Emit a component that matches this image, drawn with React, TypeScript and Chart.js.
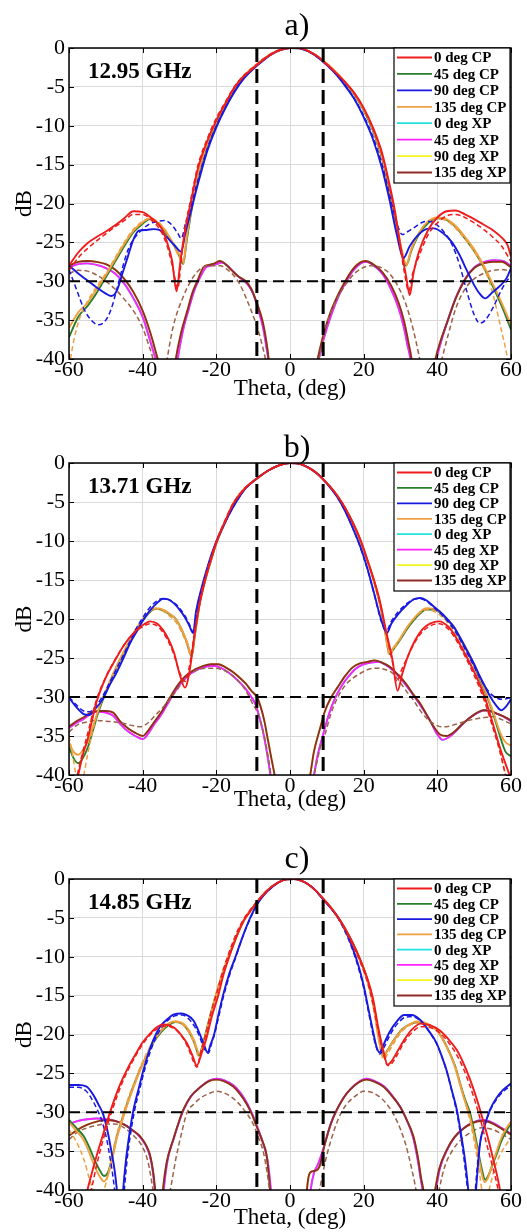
import React, { useEffect, useRef } from 'react';
import { Chart, registerables } from 'chart.js';

Chart.register(...registerables);

const SERIF = "'Liberation Serif', 'Times New Roman', serif";

// ---------- shared axis / label data ----------
const xTicks = [-60, -40, -20, 0, 20, 40, 60];
const yTicks = [0, -5, -10, -15, -20, -25, -30, -35, -40];
const refThetas = [-9, 9];
const refLevel = -30;
const legendLabels = ['0 deg CP', '45 deg CP', '90 deg CP', '135 deg CP', '0 deg XP', '45 deg XP', '90 deg XP', '135 deg XP'];
const panelTitles = ['a)', 'b)', 'c)'];
const freqLabels = ['12.95 GHz', '13.71 GHz', '14.85 GHz'];

// ---------- panel a : 12.95 GHz ([theta, dB]) ----------
const aCP0 = [[-60,-28],[-57.5,-26.3],[-55,-25.1],[-52.5,-24.3],[-50,-23.6],[-47.5,-22.8],[-45,-21.9],[-42.5,-21],[-40,-21.1],[-37.5,-21.9],[-35,-23.1],[-33.5,-24.8],[-32,-27.4],[-30.8,-31.3],[-29.8,-27.6],[-28.5,-23.5],[-27,-20],[-25,-15.5],[-22.5,-12],[-20,-9.3],[-17.5,-7.1],[-15,-5],[-12.5,-3.6],[-10,-2.6],[-7.5,-1.6],[-5,-0.8],[-2.5,-0.25],[0,0],[2.5,0],[5,-0.4],[7.5,-1.1],[10,-2.1],[12.5,-3.2],[15,-4.4],[17.5,-5.8],[20,-7.7],[22.5,-10.2],[25,-13.5],[27,-17.5],[28.5,-21],[30,-25.5],[31.5,-29.3],[32.5,-31.8],[33.5,-29],[35,-26.2],[37.5,-23.4],[40,-21.8],[42.5,-21],[45,-20.9],[47.5,-21.4],[50,-22],[52.5,-22.7],[55,-23.4],[57.5,-24.4],[59,-25.3],[60,-26.8]];
const aCP0s = [[-60,-28.6],[-57.5,-27],[-55,-25.8],[-52.5,-24.8],[-50,-23.9],[-47.5,-23],[-45,-22.2],[-42.5,-21.4],[-40,-21.4],[-37.5,-22.2],[-35,-23.6],[-33,-26],[-31.5,-29],[-30.5,-31],[-29.5,-27.2],[-28.5,-23.2],[-27,-19.6],[-25,-15.1],[-22.5,-11.7],[-20,-9],[-17.5,-6.9],[-15,-4.9],[-12.5,-3.5],[-10,-2.5],[-7.5,-1.5],[-5,-0.7],[-2.5,-0.2],[0,0],[2.5,0],[5,-0.4],[7.5,-1.1],[10,-2.1],[12.5,-3.2],[15,-4.4],[17.5,-5.9],[20,-7.8],[22.5,-10.4],[25,-13.8],[27,-17.8],[28.5,-21.4],[30,-25.8],[31.3,-29.5],[32.2,-31.3],[33.3,-29],[35,-26.8],[37.5,-24],[40,-22.5],[42.5,-21.6],[45,-21.4],[47.5,-21.8],[50,-22.5],[52.5,-23.3],[55,-24.3],[57.5,-25.5],[60,-27.5]];
const aCP45 = [[-60,-37.2],[-57.5,-34.6],[-55,-33.2],[-52.5,-31.5],[-50,-29.5],[-47.5,-27.5],[-45,-25.5],[-42.5,-23.7],[-40,-22.6],[-38,-22],[-36,-22.5],[-34,-23.6],[-32,-25],[-30,-26.8],[-29,-27.8],[-28,-24.6],[-26.5,-20.2],[-25,-16.6],[-22.5,-12.6],[-20,-9.7],[-17.5,-7.4],[-15,-5.3],[-12.5,-3.7],[-10,-2.6],[-7.5,-1.6],[-5,-0.8],[-2.5,-0.25],[0,0],[2.5,-0.05],[5,-0.4],[7.5,-1.1],[10,-2.1],[12.5,-3.2],[15,-4.5],[17.5,-6],[20,-8],[22.5,-10.6],[25,-14.2],[27,-18.3],[29,-23],[30.5,-26.5],[31.5,-28],[33,-26],[35,-24],[37.5,-22.5],[40,-21.9],[42.5,-22.1],[45,-23],[47.5,-24.5],[50,-26.1],[52.5,-28.1],[55,-30.6],[57.5,-33.2],[60,-36.2]];
const aCP135 = [[-60,-36],[-57.5,-34],[-55,-32.8],[-52.5,-31],[-50,-29.2],[-47.5,-27.2],[-45,-25.2],[-42.5,-23.5],[-40,-22.4],[-38,-21.9],[-36,-22.4],[-34,-23.4],[-32,-24.9],[-30,-26.6],[-29,-27.5],[-28,-24.2],[-26.5,-19.9],[-25,-16.3],[-22.5,-12.4],[-20,-9.5],[-17.5,-7.2],[-15,-5.1],[-12.5,-3.6],[-10,-2.5],[-7.5,-1.5],[-5,-0.7],[-2.5,-0.2],[0,0],[2.5,0],[5,-0.4],[7.5,-1.1],[10,-2],[12.5,-3.1],[15,-4.4],[17.5,-5.9],[20,-7.9],[22.5,-10.4],[25,-14],[27,-18],[29,-22.7],[30.5,-26.3],[31.5,-27.8],[33,-25.8],[35,-23.8],[37.5,-22.3],[40,-21.8],[42.5,-22],[45,-22.9],[47.5,-24.3],[50,-25.9],[52.5,-27.9],[55,-30.3],[57.5,-32.8],[60,-35.6]];
const aCP135s = [[-60,-41],[-58.5,-37.2],[-57,-34.6],[-55,-32.6],[-52.5,-30.7],[-50,-29],[-47.5,-27],[-45,-25],[-42.5,-23.3],[-40,-22.3],[-38,-21.9],[-36,-22.3],[-34,-23.3],[-32,-25],[-30,-27],[-29,-27.8],[-28,-24],[-26.5,-19.5],[-25,-16],[-22.5,-12.1],[-20,-9.3],[-17.5,-7],[-15,-5],[-12.5,-3.5],[-10,-2.4],[-7.5,-1.5],[-5,-0.7],[-2.5,-0.2],[0,0],[2.5,0],[5,-0.4],[7.5,-1.1],[10,-2],[12.5,-3.1],[15,-4.4],[17.5,-5.9],[20,-7.9],[22.5,-10.5],[25,-14.2],[27,-18.3],[29,-23],[30.5,-26.5],[31.5,-28],[33,-25.8],[35,-23.8],[37.5,-22.3],[40,-21.9],[42.5,-22.2],[45,-23.2],[47.5,-24.6],[50,-26.2],[52,-27.8],[54,-29.9],[55.5,-32.4],[57,-35.5],[58.5,-38.6],[59.5,-41]];
const aCP90 = [[-60,-28],[-57.5,-29],[-55,-29.9],[-52.5,-30.8],[-50,-31.6],[-48.5,-31.9],[-47,-31.2],[-45.5,-29],[-44,-26.8],[-42.5,-24.6],[-41,-23.5],[-39,-23.4],[-37,-23.3],[-35.5,-23.4],[-33.5,-24.3],[-31.5,-25.3],[-29.5,-26.2],[-28.5,-24],[-27,-21.2],[-25,-17.5],[-22.5,-13.3],[-20,-10.2],[-17.5,-7.7],[-15,-5.6],[-12.5,-3.9],[-10,-2.7],[-7.5,-1.7],[-5,-0.8],[-2.5,-0.25],[0,0],[2.5,-0.05],[5,-0.45],[7.5,-1.2],[10,-2.2],[12.5,-3.4],[15,-4.9],[17.5,-6.6],[20,-8.9],[22.5,-11.7],[25,-15.5],[27,-19.5],[29,-24],[30.8,-27],[32.5,-25.5],[34.5,-24.2],[37,-23.3],[39,-23.2],[41.5,-23.8],[44,-25],[46,-26.6],[48,-28.6],[50,-30.5],[51.5,-31.6],[53,-32.2],[55,-31.4],[57,-30.6],[58.8,-29.6],[60,-28.3]];
const aCP90s = [[-60,-28.5],[-58,-31],[-56,-33.5],[-54,-35],[-52,-35.6],[-50,-35],[-48.5,-33.5],[-47,-31],[-45.5,-28.3],[-44,-26],[-42,-24.3],[-40,-23.3],[-38,-22.6],[-36,-22.3],[-34,-22.2],[-32,-22.8],[-30.5,-23.8],[-29.5,-24.5],[-28.5,-22.8],[-27,-20.5],[-25,-17],[-22.5,-13],[-20,-10],[-17.5,-7.6],[-15,-5.5],[-12.5,-3.8],[-10,-2.6],[-7.5,-1.6],[-5,-0.8],[-2.5,-0.2],[0,0],[2.5,-0.05],[5,-0.45],[7.5,-1.2],[10,-2.2],[12.5,-3.3],[15,-4.8],[17.5,-6.5],[20,-8.7],[22.5,-11.4],[25,-15],[27,-18.8],[29,-22.5],[30.5,-24],[32,-23.6],[34,-23],[36,-22.4],[38,-22.3],[40,-22.8],[42,-23.8],[44,-25.3],[46,-27.8],[48,-31.3],[50,-34.3],[51.5,-35.4],[53,-35],[55,-33.5],[57,-31.5],[58.5,-30.2],[60,-29.3]];
const aXP135 = [[-60,-28],[-57.5,-27.5],[-55,-27.4],[-52.5,-27.5],[-50,-27.8],[-47.5,-28.5],[-45,-29.7],[-42.5,-31.4],[-40,-33.8],[-38,-36.5],[-36.5,-39],[-35.5,-41],[-33.5,-50],[-31,-40],[-29.5,-36.5],[-28,-34],[-26.5,-31.5],[-25,-29.8],[-23.5,-28.2],[-22,-27.9],[-20.5,-27.7],[-19,-27.4],[-17.5,-27.8],[-16,-28.5],[-14,-29.4],[-12,-30],[-10.5,-31],[-9,-32.8],[-7.5,-35],[-6.5,-37.5],[-5.8,-40],[-5,-45],[0,-60],[5,-45],[7.5,-40],[9,-37],[11,-34],[13,-31.8],[15,-30],[17,-28.5],[19,-27.6],[20.5,-27.4],[22.5,-27.8],[25,-28.8],[27.5,-30.6],[29.5,-32.8],[31,-35.2],[32,-37.5],[33,-40],[34,-44],[36.5,-50],[38.5,-43],[39.5,-40],[41,-37.5],[42.5,-35.5],[45,-32.2],[47.5,-29.8],[50,-28.3],[52.5,-27.7],[55,-27.5],[57.5,-27.5],[60,-28.2]];
const aXP45 = [[-60,-28.2],[-57.5,-27.8],[-55,-27.7],[-52.5,-27.9],[-50,-28.3],[-47.5,-29],[-45,-30.3],[-42.5,-32.2],[-40,-34.6],[-38.5,-36.8],[-37,-39.2],[-36,-41],[-33.5,-50],[-30.5,-40],[-29,-36.2],[-27.5,-33.6],[-26,-31.2],[-24.5,-29.6],[-23,-28.3],[-21.5,-28],[-20,-27.8],[-18.5,-27.6],[-17,-28],[-15.5,-28.7],[-13.5,-29.6],[-11.5,-30.4],[-10,-31.6],[-8.7,-33.5],[-7.3,-36],[-6.4,-38.5],[-5.9,-40],[-5,-45],[0,-60],[5,-46],[7.8,-40],[9.4,-37],[11.3,-34.2],[13.2,-31.9],[15.2,-30.1],[17.2,-28.6],[19.2,-27.7],[20.7,-27.5],[22.5,-27.9],[25,-29],[27.3,-30.9],[29.3,-33.2],[30.8,-35.7],[31.8,-38],[32.7,-40],[34,-45],[36.5,-50],[38.8,-43],[39.8,-40],[41.3,-37.3],[43,-34.8],[45.3,-31.8],[47.8,-29.5],[50.3,-28.1],[52.8,-27.5],[55.3,-27.3],[57.8,-27.4],[60,-28]];
const aXP0 = aXP45;
const aXP90 = aXP135;
const aXPs = [[-60,-29],[-57.5,-28.6],[-55,-28.7],[-52.5,-29.2],[-50,-30],[-47.5,-31],[-45,-32.3],[-42.5,-33.8],[-40,-36],[-38.5,-38],[-37,-40.5],[-35.5,-46],[-34,-42],[-33,-39],[-31.7,-35.8],[-29,-32],[-26.2,-29.4],[-24,-28.3],[-22.5,-28],[-19,-28],[-17,-28.5],[-15.4,-29.2],[-13.5,-30.5],[-11.7,-32.4],[-9,-35.8],[-7.5,-38.3],[-6.5,-40.5],[-4,-50],[0,-60],[4,-50],[7.5,-41],[8.5,-38.5],[10,-35.5],[12,-33],[15,-30.5],[18,-28.8],[22,-28],[25,-28.3],[27,-29],[29.5,-30.8],[31.5,-33],[33.5,-36.3],[35,-39.5],[36,-42],[38,-46],[40,-42.5],[41.5,-39.5],[43,-36.8],[45,-33.5],[47.5,-31],[50,-29.7],[52.5,-29],[55,-28.6],[57.5,-28.5],[60,-28.7]];

// ---------- panel b : 13.71 GHz ----------
const bCP0 = [[-60,-44],[-58.5,-41.5],[-57.5,-40],[-56.3,-37.5],[-55,-35.5],[-52.5,-30.6],[-50,-27.5],[-47.5,-25.3],[-45,-23.3],[-42.5,-21.8],[-40,-20.8],[-38,-20.3],[-36,-20.6],[-34.5,-21.4],[-33,-22.6],[-31.5,-24.3],[-30,-27],[-28.5,-28.8],[-27.2,-26.5],[-26,-22.3],[-24.5,-18],[-23,-15],[-21.5,-12.5],[-20,-10.2],[-17.5,-7.4],[-15.5,-5.3],[-12.5,-3.4],[-9,-2],[-6,-1],[-3,-0.3],[0,0],[2,-0.05],[5,-0.6],[7.5,-1.4],[9,-2.1],[11,-3.1],[13,-4.3],[15,-5.8],[17,-7.6],[19,-9.7],[21,-12.4],[23,-15.3],[24.5,-17.9],[26.2,-21.8],[27.8,-25.2],[29.2,-29.2],[30.5,-27],[32,-24.8],[34,-22.7],[36,-21.3],[38,-20.6],[40.5,-20.3],[43,-21],[45,-22.3],[47,-24],[49,-25.8],[51,-27.8],[53,-30.2],[55,-33.3],[57,-36.5],[59,-39.2],[60,-40.5]];
const bCP0s = [[-60,-45],[-58,-40.5],[-56.5,-37.5],[-55,-34.8],[-52.5,-30.3],[-50,-27.4],[-47.5,-25.2],[-45,-23.3],[-42.5,-21.9],[-40,-21],[-38,-20.6],[-36,-20.9],[-34.5,-21.7],[-33,-22.9],[-31.5,-24.6],[-30,-26.8],[-28.5,-28],[-27.3,-26],[-26,-22],[-24.5,-17.6],[-23,-14.6],[-21.5,-12.2],[-20,-10],[-17.5,-7.2],[-15.5,-5.2],[-12.5,-3.3],[-9,-2],[-6,-1],[-3,-0.3],[0,0],[2,-0.05],[5,-0.6],[7.5,-1.4],[9,-2.1],[11,-3.1],[13,-4.3],[15,-5.8],[17,-7.7],[19,-9.8],[21,-12.5],[23,-15.5],[24.5,-18.2],[26.2,-22],[27.8,-25.5],[29,-28],[30.3,-26.5],[32,-24.8],[34,-22.9],[36,-21.6],[38,-20.9],[40.5,-20.6],[43,-21.3],[45,-22.6],[47,-24.3],[49,-26.2],[51,-28.3],[53,-30.8],[55,-33.8],[57,-37],[58.5,-40],[60,-43]];
const bCP45 = [[-60,-36.4],[-58.8,-37.8],[-57.5,-38.5],[-56.2,-37.8],[-55,-36.6],[-53.5,-34.3],[-52,-31.9],[-50,-29.4],[-48,-27.1],[-46,-25.2],[-44,-23.4],[-42,-21.6],[-40,-20.2],[-38,-19.1],[-36.5,-18.7],[-35,-18.8],[-33,-19.3],[-31,-20],[-29.5,-21.3],[-28,-23],[-26.7,-24.8],[-25.8,-22],[-24.5,-18],[-23,-15],[-21.5,-12.6],[-20,-10.3],[-17.5,-7.5],[-15.5,-5.4],[-12.5,-3.4],[-9,-2],[-6,-1],[-3,-0.3],[0,0],[2,-0.05],[5,-0.6],[7.5,-1.4],[9,-2.1],[11,-3.1],[13,-4.3],[15,-5.8],[17,-7.6],[19,-9.8],[21,-12.5],[23,-15.5],[24.5,-18.2],[25.8,-21.5],[27,-24.5],[28.2,-23.8],[30,-22.6],[31.6,-21.4],[33.5,-20.2],[35.3,-19.3],[37,-18.8],[39,-18.8],[41,-19.3],[43,-20.3],[44.5,-21],[46,-22.4],[48,-24],[50,-26],[51.6,-27.8],[53.5,-30],[55.2,-32.2],[57,-35],[58.5,-37],[60,-37.6]];
const bCP135 = [[-60,-35.8],[-58.8,-37],[-57.5,-37.4],[-56.2,-36.8],[-55,-35.8],[-53.5,-33.8],[-52,-31.6],[-50,-29.2],[-48,-27],[-46,-25],[-44,-23.2],[-42,-21.5],[-40,-20.1],[-38,-19],[-36.5,-18.6],[-35,-18.7],[-33,-19.2],[-31,-20],[-29.5,-21.2],[-28,-22.9],[-26.7,-24.6],[-25.8,-21.8],[-24.5,-17.9],[-23,-14.9],[-21.5,-12.5],[-20,-10.2],[-17.5,-7.4],[-15.5,-5.3],[-12.5,-3.4],[-9,-2],[-6,-1],[-3,-0.3],[0,0],[2,-0.05],[5,-0.6],[7.5,-1.4],[9,-2.1],[11,-3.1],[13,-4.3],[15,-5.8],[17,-7.6],[19,-9.8],[21,-12.4],[23,-15.4],[24.5,-18.1],[25.8,-21.4],[27,-24.3],[28.2,-23.6],[30,-22.4],[31.6,-21.2],[33.5,-20],[35.3,-19.1],[37,-18.6],[39,-18.7],[41,-19.2],[43,-20.2],[44.5,-21],[46,-22.3],[48,-23.9],[50,-25.8],[51.6,-27.6],[53.5,-29.8],[55.2,-32],[57,-34.5],[58.5,-35.8],[60,-36.2]];
const bCP135s = [[-60,-35],[-59,-37.5],[-58,-40.2],[-57,-41.5],[-56,-40],[-55,-37.5],[-53.5,-34.2],[-52,-31.6],[-50,-29.2],[-48,-27],[-46,-25],[-44,-23.2],[-42,-21.4],[-40,-20],[-38,-19],[-36.5,-18.7],[-35,-18.9],[-33,-19.5],[-31,-20.4],[-29.5,-21.6],[-28,-23.3],[-26.8,-24.9],[-25.8,-22],[-24.5,-17.8],[-23,-14.7],[-21.5,-12.3],[-20,-10],[-17.5,-7.3],[-15.5,-5.2],[-12.5,-3.3],[-9,-2],[-6,-1],[-3,-0.3],[0,0],[2,-0.05],[5,-0.6],[7.5,-1.4],[9,-2.1],[11,-3.1],[13,-4.3],[15,-5.8],[17,-7.7],[19,-9.9],[21,-12.6],[23,-15.7],[24.5,-18.5],[25.8,-21.8],[27,-24.7],[28.2,-23.8],[30,-22.5],[31.6,-21.2],[33.5,-20],[35.3,-19.2],[37,-18.8],[39,-19],[41,-19.6],[43,-20.6],[45,-22],[47,-23.8],[49,-25.8],[51,-28],[53,-30.5],[55,-33.5],[57,-37],[58.5,-40],[59.5,-42]];
const bCP90 = [[-60,-30.1],[-58,-31.3],[-56,-32.2],[-54.5,-32.3],[-53,-31.6],[-51,-30.4],[-49,-28.5],[-47,-26.8],[-45,-24.8],[-43.4,-23.1],[-41.5,-21.5],[-39.8,-20.1],[-38,-18.9],[-36.2,-18],[-34.5,-17.4],[-33,-17.5],[-31.5,-18],[-30,-18.8],[-28.5,-19.8],[-27.3,-20.9],[-26.3,-21.8],[-25.5,-19],[-24,-16],[-22.5,-13.5],[-21,-11.3],[-19.5,-9.5],[-17.5,-7.5],[-15,-5.3],[-12.5,-3.5],[-9,-2],[-6,-1],[-3,-0.3],[0,0],[2,-0.05],[5,-0.6],[7.5,-1.4],[9,-2.1],[11,-3.2],[13,-4.5],[15,-6.2],[17,-8.3],[19,-10.6],[21,-13.5],[23,-17],[24.7,-20],[26.3,-21.8],[27.5,-20.6],[29.5,-19.3],[31.5,-18.3],[33.5,-17.5],[35.3,-17.3],[37,-17.6],[39,-18.4],[41.5,-19.4],[44.3,-20.9],[46,-22.2],[48,-24],[50,-25.8],[51.6,-27.4],[53,-28.7],[54.3,-29.9],[56,-31.1],[57.3,-31.7],[58.7,-31.2],[60,-30.3]];
const bCP90s = [[-60,-30],[-58,-31],[-56,-31.8],[-54.5,-31.9],[-53,-31.3],[-51,-30],[-49,-28.2],[-47,-26.3],[-45,-24.4],[-43.4,-22.8],[-41.5,-21],[-39.8,-19.7],[-38,-18.5],[-36.2,-17.7],[-34.8,-17.4],[-33,-17.5],[-31.5,-17.9],[-30,-18.6],[-28.5,-19.6],[-27.3,-20.7],[-26.2,-21.7],[-25.3,-19.2],[-24,-16.2],[-22.5,-13.6],[-21,-11.4],[-19.5,-9.6],[-17.5,-7.5],[-15,-5.3],[-12.5,-3.5],[-9,-2],[-6,-1],[-3,-0.3],[0,0],[2,-0.05],[5,-0.6],[7.5,-1.4],[9,-2.1],[11,-3.2],[13,-4.5],[15,-6.2],[17,-8.3],[19,-10.7],[21,-13.6],[23,-17.1],[24.7,-20.2],[26.2,-21.5],[27.5,-20.3],[29.5,-19],[31.5,-18.1],[33.5,-17.5],[35.3,-17.4],[37,-17.7],[39,-18.5],[41.5,-19.6],[44.3,-21.2],[46,-22.5],[48,-24.3],[50,-26.1],[51.6,-27.6],[53,-28.7],[54.5,-29.6],[56,-30.1],[57.5,-30.3],[59,-30.2],[60,-30.1]];
const bXP135 = [[-60,-33.8],[-58,-33.1],[-56,-32.6],[-54,-32],[-52,-31.8],[-50,-31.8],[-48,-32],[-46,-33.2],[-44,-34],[-42,-34.6],[-40,-35],[-38.5,-34.3],[-37,-33.3],[-35,-32],[-33.5,-30.8],[-32,-29.6],[-30.5,-28.5],[-29,-27.6],[-27.5,-27],[-25.5,-26.4],[-23.5,-26],[-21.5,-25.8],[-19.5,-25.8],[-17.5,-26.2],[-15.5,-26.8],[-13.5,-27.6],[-12,-28.3],[-10.5,-29.2],[-9,-30],[-8,-31.2],[-7,-33],[-6,-35.5],[-5,-38],[-4,-40.5],[-2,-47],[0,-55],[2,-50],[4,-44],[5.5,-40],[6.5,-37],[8,-34.3],[9.5,-31.8],[11,-30.2],[13,-28.7],[15,-27.3],[17,-26.2],[19,-25.7],[21,-25.5],[23,-25.3],[25,-25.6],[27,-26.1],[29,-27],[31.5,-28.3],[33.5,-29.7],[35.3,-30.8],[37,-32.2],[39,-33.8],[40.7,-34.8],[42.5,-35],[44.5,-34.5],[46.5,-33.6],[48.5,-32.8],[50.5,-32.1],[52.5,-31.7],[54.5,-31.8],[56.5,-32.2],[58.5,-32.6],[60,-33]];
const bXP45 = [[-60,-34],[-58,-33.3],[-56,-32.8],[-54,-32.1],[-52,-31.9],[-50,-32],[-48,-32.4],[-46,-33.5],[-44,-34.4],[-42,-35],[-40,-35.4],[-38.5,-34.7],[-37,-33.6],[-35,-32.3],[-33.5,-31.1],[-32,-29.9],[-30.5,-28.8],[-29,-27.9],[-27.5,-27.2],[-25.5,-26.6],[-23.5,-26.2],[-21.5,-26],[-19.5,-26.1],[-17.5,-26.6],[-15.5,-27.3],[-13.5,-28.2],[-12,-29],[-10.5,-30],[-9.3,-31],[-8.3,-32.6],[-7.3,-34.5],[-6.3,-37],[-5.3,-40],[-3,-48],[0,-55],[3,-48],[5,-43],[6.5,-40],[7.5,-37.5],[9,-34.8],[10.5,-32.3],[12,-30.4],[14,-28.6],[16,-27.3],[18,-26.3],[20,-25.8],[22,-25.6],[24,-25.5],[26,-25.9],[28,-26.6],[30,-27.6],[32,-28.8],[34,-30.1],[36,-31.5],[38,-33],[40,-34.8],[41.5,-35.5],[43,-35.2],[45,-34.4],[47,-33.4],[49,-32.6],[51,-32],[53,-31.7],[55,-31.9],[57,-32.3],[59,-32.8],[60,-33.1]];
const bXP0 = bXP45;
const bXP90 = bXP135;
const bXPs = [[-60,-34.5],[-57.5,-33.5],[-55,-33.2],[-52.5,-33],[-50,-33.1],[-47.5,-33.2],[-45,-33.4],[-42.5,-33.7],[-40.5,-33.8],[-38.5,-33.3],[-36.5,-32.3],[-35,-31.6],[-33,-30.5],[-31,-29.3],[-29,-28],[-27,-27],[-25,-26.5],[-23,-26.3],[-21,-26.3],[-19,-26.4],[-17,-26.8],[-15,-27.5],[-13,-28.5],[-11.5,-29.6],[-10,-31],[-9,-31.8],[-8,-33.2],[-7,-35],[-6,-37.5],[-5,-40.5],[-3,-47],[0,-55],[3,-47],[5.5,-42],[7,-39],[8.5,-36],[9.5,-34.8],[11,-32.3],[13,-30],[15,-28.5],[17,-27.6],[19,-27],[21,-26.5],[23.5,-26.3],[26,-26.5],[28,-27],[30,-28.2],[32,-29.5],[33.5,-30.4],[35,-31.5],[37,-32.7],[38.9,-33.4],[41,-33.8],[42.5,-33.8],[45,-33.5],[47,-33.2],[49.5,-32.9],[51.6,-32.7],[53.5,-32.6],[55.2,-32.5],[57.5,-32.9],[59.7,-33.4]];

// ---------- panel c : 14.85 GHz ----------
const cCP0 = [[-60,-49],[-57,-44],[-55,-40],[-53.5,-37.3],[-52,-34.8],[-50,-31.7],[-48,-28.8],[-46,-26.3],[-44,-24.3],[-42,-22.6],[-40,-21],[-38,-19.9],[-36,-19],[-34.5,-18.7],[-33,-18.8],[-31.5,-19.1],[-30,-19.8],[-28,-21.1],[-26.5,-22.7],[-25.3,-24],[-24,-22.4],[-22.7,-20.5],[-21.3,-17.8],[-19.5,-15],[-18,-12.2],[-16,-9.3],[-14,-6.8],[-12.5,-5.3],[-11,-4.3],[-9,-3],[-7,-1.9],[-5,-1],[-3,-0.4],[-1,-0.05],[1,0],[3,-0.2],[5,-0.7],[7,-1.5],[9,-2.5],[11,-3.6],[13,-4.9],[15,-6.4],[17,-8.2],[19,-10.3],[21,-12.8],[22.5,-15.3],[24,-19.2],[25.3,-22],[26.5,-23.9],[27.5,-23.5],[29,-22.3],[31,-20.7],[33,-19.4],[35.5,-18.6],[38,-18.8],[40.7,-19.5],[43,-20.6],[45.3,-22],[47,-23.6],[48.9,-25.8],[50.3,-27.7],[51.6,-29.7],[53.4,-32.7],[55.2,-36.1],[57,-40],[58.5,-45],[60,-49]];
const cCP0s = [[-60,-47],[-57,-43],[-54,-40],[-52.5,-36.8],[-51,-34],[-49,-30.8],[-47,-28],[-45,-25.6],[-43,-23.7],[-41,-22],[-39,-20.6],[-37,-19.6],[-35,-19],[-33.5,-18.9],[-32,-19.1],[-30.5,-19.6],[-29,-20.5],[-27.5,-21.9],[-26.2,-23.5],[-25.3,-24.2],[-24.2,-22.2],[-22.9,-20],[-21.5,-17.3],[-19.8,-14.5],[-18.2,-11.8],[-16.2,-9],[-14.2,-6.6],[-12.5,-5.1],[-11,-4.1],[-9,-2.9],[-7,-1.8],[-5,-1],[-3,-0.4],[-1,-0.05],[1,0],[3,-0.2],[5,-0.7],[7,-1.5],[9,-2.6],[11,-3.7],[13,-5],[15,-6.6],[17,-8.5],[19,-10.6],[21,-13.2],[22.5,-16],[24,-19.7],[25.3,-22.3],[26.5,-24],[27.5,-23.8],[29,-22.7],[31,-21],[33,-19.8],[35.5,-19],[38,-19.1],[40.7,-19.8],[43,-21],[45,-22.4],[47,-24.3],[49,-26.8],[50.5,-29],[52,-31.5],[53.5,-34.3],[55,-37],[56.5,-40],[58,-45],[60,-50]];
const cCP45 = [[-60,-31],[-58,-32],[-56,-33.1],[-54.5,-34.5],[-53,-36.2],[-51.5,-37.6],[-50.5,-38.2],[-49.5,-37.8],[-48.5,-36.3],[-47,-33.1],[-45.5,-30.8],[-44,-28.6],[-42,-26],[-40.5,-24.3],[-39,-22.8],[-37,-21],[-35,-19.7],[-33,-18.8],[-31,-18.4],[-29,-18.7],[-27.5,-19.6],[-26,-21],[-24.7,-22.7],[-23.8,-21.5],[-22.5,-19.1],[-21,-16.4],[-19.5,-14],[-18,-11.8],[-16,-9.2],[-14,-6.8],[-12.5,-5.3],[-11,-4.2],[-9,-3],[-7,-1.9],[-5,-1],[-3,-0.4],[-1,-0.05],[1,0],[3,-0.2],[5,-0.7],[7,-1.5],[9,-2.6],[11,-3.6],[13,-4.9],[15,-6.4],[17,-8.2],[19,-10.3],[21,-12.9],[22.5,-15.7],[23.7,-19],[24.6,-21.5],[25.4,-22.8],[26.5,-22],[28.5,-20.5],[30.5,-19.3],[33,-18.6],[35.3,-18.4],[37.5,-18.8],[39.8,-19.4],[41.5,-20.6],[43.4,-22.4],[45,-24.3],[46.2,-26.3],[47.5,-28.3],[48.9,-30.1],[50,-32.4],[50.7,-34],[51.5,-36],[52.2,-37.6],[53,-38.7],[53.8,-38.2],[54.8,-37],[56.1,-35.4],[57.5,-33.6],[59,-32.2],[60,-31.4]];
const cCP135 = [[-60,-31.3],[-58,-32.4],[-56,-33.6],[-54.5,-35.2],[-53,-37],[-51.5,-38.4],[-50.5,-38.9],[-49.5,-38.2],[-48.5,-36.5],[-47,-33.3],[-45.5,-31],[-44,-28.8],[-42,-26.2],[-40.5,-24.4],[-39,-22.8],[-37,-20.9],[-35,-19.5],[-33,-18.6],[-31,-18.3],[-29,-18.6],[-27.5,-19.4],[-26,-20.8],[-24.5,-22.5],[-23.6,-21.3],[-22.3,-18.9],[-20.8,-16.2],[-19.3,-13.8],[-17.8,-11.6],[-15.8,-9],[-13.8,-6.6],[-12.3,-5.2],[-10.8,-4.1],[-9,-3],[-7,-1.9],[-5,-1],[-3,-0.4],[-1,-0.05],[1,0],[3,-0.2],[5,-0.7],[7,-1.5],[9,-2.6],[11,-3.6],[13,-4.9],[15,-6.5],[17,-8.3],[19,-10.4],[21,-13],[22.5,-15.9],[23.6,-19.2],[24.5,-21.7],[25.3,-22.9],[26.4,-22.1],[28.4,-20.6],[30.4,-19.4],[32.8,-18.6],[35,-18.3],[37.3,-18.6],[39.5,-19.3],[41.3,-20.5],[43.2,-22.3],[44.8,-24.2],[46,-26.2],[47.3,-28.3],[48.7,-30.3],[49.8,-32.6],[50.6,-34.3],[51.4,-36.3],[52.1,-38],[52.8,-39],[53.6,-38.6],[54.6,-37.2],[55.9,-35.3],[57.3,-33.4],[58.8,-32],[60,-31.2]];
const cCP135s = [[-60,-32.2],[-58,-33.8],[-56,-36],[-54.5,-38.5],[-53,-40.5],[-51.8,-41],[-50.5,-40],[-49.5,-38.2],[-48.3,-35.5],[-47,-32.8],[-45.5,-30.5],[-44,-28.3],[-42,-25.8],[-40.5,-24],[-39,-22.5],[-37,-20.7],[-35,-19.4],[-33,-18.6],[-31,-18.4],[-29,-18.8],[-27.5,-19.7],[-26,-21.2],[-24.6,-23],[-23.7,-21.8],[-22.4,-19.2],[-21,-16.3],[-19.5,-13.7],[-18,-11.4],[-16,-8.9],[-14,-6.6],[-12.5,-5.2],[-11,-4.1],[-9,-3],[-7,-1.9],[-5,-1],[-3,-0.4],[-1,-0.05],[1,0],[3,-0.2],[5,-0.7],[7,-1.5],[9,-2.6],[11,-3.7],[13,-5],[15,-6.6],[17,-8.5],[19,-10.6],[21,-13.3],[22.5,-16.2],[23.7,-19.5],[24.6,-22],[25.5,-23.2],[26.6,-22.4],[28.6,-20.8],[30.6,-19.5],[33,-18.7],[35.5,-18.5],[37.7,-18.9],[40,-19.6],[42,-21],[44,-23],[45.5,-25],[46.8,-27.3],[48,-29.5],[49.3,-32],[50.5,-35],[51.5,-38],[52.3,-40.5],[53.3,-41],[54.3,-39.5],[55.5,-37.3],[57,-35.5],[58.5,-34.3],[60,-33.3]];
const cCP90 = [[-60,-26.5],[-57.5,-26.5],[-55.2,-26.7],[-53.5,-27.7],[-52,-29],[-50.7,-30.3],[-49.5,-32.5],[-48.5,-35],[-47.6,-37.5],[-47,-40],[-46,-46],[-45.3,-40],[-44.5,-36],[-43.5,-32.5],[-42.5,-29.7],[-41,-26.8],[-39.8,-24.6],[-38.5,-22.5],[-37.1,-20.7],[-35.3,-19],[-33.5,-18.1],[-31.5,-17.4],[-29.5,-17.3],[-28,-17.5],[-26.2,-18.2],[-24.8,-19.6],[-23.5,-21.1],[-22.4,-22.3],[-21.5,-21.2],[-20.6,-20],[-19.5,-17.6],[-18.2,-15],[-16.5,-12.2],[-14.8,-10],[-13,-7.6],[-11,-5.2],[-9,-3.3],[-7,-2],[-5,-1.1],[-3,-0.4],[-1,-0.05],[1,0],[3,-0.2],[5,-0.7],[7,-1.5],[9,-2.6],[11,-3.7],[13,-4.9],[15,-6.6],[17,-8.9],[18.5,-11],[20,-13.7],[21.2,-16.5],[22.5,-19.5],[23.5,-21.6],[24.3,-22.3],[25.5,-21.2],[27,-19.7],[29,-18.3],[31,-17.5],[33,-17.5],[35.3,-18.1],[37.5,-19.4],[39.8,-21.1],[41.5,-23.2],[42.5,-24.6],[44,-27.3],[45.3,-29.7],[46.5,-33],[47.5,-36.1],[48.4,-40],[49.5,-46],[50.5,-40],[51.6,-34],[53,-31.5],[54.3,-29.7],[56,-28.2],[57.9,-27.1],[60,-26.3]];
const cCP90s = [[-60,-26.8],[-57.5,-26.8],[-55.5,-27.2],[-53.8,-28.3],[-52.3,-29.7],[-51,-31.2],[-49.8,-33.4],[-48.8,-36],[-48,-38.5],[-47.4,-41],[-46.3,-46],[-45,-40],[-44.2,-36],[-43.2,-32.5],[-42.2,-29.8],[-40.8,-27],[-39.5,-24.6],[-38.2,-22.6],[-36.7,-20.7],[-35,-19.2],[-33.2,-18.2],[-31.2,-17.6],[-29.2,-17.5],[-27.7,-17.9],[-26,-18.9],[-24.6,-20.2],[-23.3,-21.8],[-22.2,-22.4],[-21.3,-21.2],[-20.4,-19.8],[-19.3,-17.6],[-18,-15],[-16.3,-12.2],[-14.6,-9.9],[-12.8,-7.4],[-10.8,-5.1],[-9,-3.3],[-7,-2],[-5,-1.1],[-3,-0.4],[-1,-0.05],[1,0],[3,-0.2],[5,-0.7],[7,-1.5],[9,-2.6],[11,-3.7],[13,-5],[15,-6.8],[17,-9.1],[18.5,-11.3],[20,-14],[21.2,-16.8],[22.4,-19.7],[23.4,-21.6],[24.4,-22.5],[25.7,-21.5],[27.2,-20],[29.2,-18.6],[31.2,-17.8],[33.2,-17.7],[35.5,-18.3],[37.7,-19.6],[40,-21.4],[41.7,-23.5],[42.7,-25],[44.2,-27.8],[45.4,-30.3],[46.5,-33.5],[47.4,-36.6],[48.2,-40],[49.3,-46],[50.3,-40],[51.4,-34.5],[52.8,-31.8],[54.2,-29.9],[56,-28.4],[58,-27.3],[60,-26.6]];
const cXP135 = [[-60,-33],[-57.5,-32.2],[-55,-31.6],[-52.5,-31.2],[-50,-31],[-47.5,-31.1],[-45,-31.6],[-42.5,-32.4],[-40.7,-33.1],[-39,-34.3],[-38,-35.5],[-37.2,-37.5],[-36.6,-40],[-35.5,-46],[-34.5,-40],[-33.5,-36.5],[-31.7,-33.5],[-30,-31],[-29,-29.7],[-27,-28],[-24.4,-26.8],[-22,-26],[-20,-25.8],[-18,-26],[-15.4,-26.7],[-13.5,-27.7],[-11.8,-28.9],[-10.3,-30.3],[-9,-31.9],[-7.5,-33.7],[-6.3,-35.7],[-5.4,-40],[-4,-48],[0,-60],[4,-45],[4.6,-40],[5.2,-38],[6,-37.6],[7,-37.5],[8,-37],[9.5,-34],[11,-31.6],[12.7,-29.7],[14.5,-28.2],[16.3,-27.1],[18.5,-26.2],[20.8,-25.8],[23,-26.1],[25.3,-26.7],[27.5,-27.8],[29.9,-29.3],[31.5,-30.8],[33.5,-33.1],[34.8,-36],[35.6,-38.5],[36.2,-40],[37.5,-46],[39.4,-40],[40.5,-37.3],[42.6,-34.8],[44.5,-33.3],[47.1,-32.1],[49.5,-31.4],[52.5,-31.1],[55.2,-31.5],[57,-32],[58.8,-32.5],[60,-32.9]];
const cXP45 = [[-60,-31.5],[-57.5,-31.1],[-55,-30.9],[-52.5,-30.8],[-50,-30.9],[-47.5,-31.1],[-45,-31.6],[-42.5,-32.4],[-40.7,-33.2],[-39,-34.4],[-38,-35.7],[-37.2,-37.7],[-36.7,-40],[-35.5,-46],[-34.3,-40],[-33.3,-36.3],[-31.5,-33.3],[-29.8,-30.8],[-28.8,-29.6],[-26.8,-27.9],[-24.2,-26.7],[-21.8,-25.9],[-19.8,-25.7],[-17.8,-25.9],[-15.2,-26.6],[-13.3,-27.6],[-11.6,-28.9],[-10.1,-30.4],[-8.8,-32],[-7.3,-34],[-6.1,-36.2],[-5.2,-40],[-4,-48],[0,-60],[4,-48],[5.6,-40],[6.5,-37.8],[7.5,-36.8],[8.5,-35.5],[9.8,-33.5],[11.2,-31.3],[12.9,-29.5],[14.7,-28],[16.5,-27],[18.7,-26.1],[20.8,-25.7],[23,-26],[25.3,-26.6],[27.5,-27.7],[29.9,-29.3],[31.5,-30.8],[33.4,-33.2],[34.7,-36.2],[35.5,-38.6],[36,-40],[37.5,-46],[39.6,-40],[40.7,-37.2],[42.8,-34.7],[44.7,-33.2],[47.3,-32],[49.7,-31.3],[52.5,-31],[55.2,-31.4],[57,-31.9],[58.8,-32.4],[60,-32.8]];
const cXP0 = cXP45;
const cXP90 = cXP135;
const cXPs = [[-60,-33.5],[-57.5,-32.5],[-55,-32],[-52.5,-31.7],[-50,-31.5],[-47.5,-31.5],[-45,-32],[-42.5,-33],[-40,-34.5],[-38.5,-36.5],[-37.2,-40],[-35.5,-46],[-33.5,-42],[-32.5,-40],[-31,-36],[-29.5,-32.8],[-28,-30.1],[-26,-28.9],[-24.4,-28.2],[-22,-27.6],[-20,-27.3],[-18,-27.5],[-16,-28],[-14.5,-28.6],[-12,-30],[-10,-31.5],[-8.5,-33.3],[-7.2,-35.2],[-6.3,-37.5],[-5.6,-40],[-4,-48],[0,-60],[4,-50],[6.5,-43],[8,-40],[9.5,-36.5],[11,-33.8],[13,-31],[15,-29.2],[17.5,-28],[20,-27.3],[22.5,-27.5],[25,-28.3],[27,-29.4],[28.5,-30.6],[30,-32.2],[31.5,-34.3],[33,-37.2],[34.2,-40],[36,-46],[38.5,-46],[40.5,-40],[42,-37],[44,-35],[46.5,-33.5],[49,-32.6],[52,-32],[55,-32.2],[57.5,-32.8],[60,-33.5]];

const panelData = [
  { cp0: aCP0, cp45: aCP45, cp90: aCP90, cp135: aCP135, xp0: aXP0, xp45: aXP45, xp90: aXP90, xp135: aXP135, cp0s: aCP0s, cp90s: aCP90s, cp135s: aCP135s, xps: aXPs },
  { cp0: bCP0, cp45: bCP45, cp90: bCP90, cp135: bCP135, xp0: bXP0, xp45: bXP45, xp90: bXP90, xp135: bXP135, cp0s: bCP0s, cp90s: bCP90s, cp135s: bCP135s, xps: bXPs },
  { cp0: cCP0, cp45: cCP45, cp90: cCP90, cp135: cCP135, xp0: cXP0, xp45: cXP45, xp90: cXP90, xp135: cXP135, cp0s: cCP0s, cp90s: cCP90s, cp135s: cCP135s, xps: cXPs },
];

// ---------- layout (pixels) ----------
const layouts = [
  { top: 0, h: 405, plotTop: 48, plotBottom: 359, legendH: 135, titleBase: 35, xTitlePad: 2 },
  { top: 405, h: 410, plotTop: 58, plotBottom: 370, legendH: 128, titleBase: 52, xTitlePad: 1 },
  { top: 815, h: 417, plotTop: 64, plotBottom: 375, legendH: 127, titleBase: 53, xTitlePad: 0 },
];

const COL = {
  red: '#f01c1c', green: '#2a7d2a', blue: '#1818e0', orange: '#f0a040',
  cyan: '#22e0e0', magenta: '#ff22ff', yellow: '#f5f520', brown: '#8c2e26', xpSim: '#9c6248',
};

const toXY = (pts: number[][]) => pts.map((p) => ({ x: p[0], y: p[1] }));

function curve(label: string, pts: number[][], color: string, dashed: boolean, order: number) {
  return {
    label,
    data: toXY(pts),
    borderColor: color,
    backgroundColor: color,
    borderWidth: dashed ? 1.5 : 1.9,
    borderDash: dashed ? [5, 3] : [],
    pointRadius: 0,
    fill: false,
    cubicInterpolationMode: 'monotone',
    order,
    clip: 0,
  };
}

function refLine(pts: number[][], width: number, dash: number[]) {
  return {
    label: '',
    data: toXY(pts),
    borderColor: '#000',
    borderWidth: width,
    borderDash: dash,
    pointRadius: 0,
    fill: false,
    tension: 0,
    order: 0,
    clip: 0,
  };
}

function Panel({ idx }: { idx: number }) {
  const ref = useRef<HTMLCanvasElement | null>(null);
  const L = layouts[idx];
  useEffect(() => {
    const D: any = panelData[idx];
    const legendColors = [COL.red, COL.green, COL.blue, COL.orange, COL.cyan, COL.magenta, COL.yellow, COL.brown];
    const datasets: any[] = [
      curve(legendLabels[0], D.cp0, COL.red, false, 1),
      curve(legendLabels[1], D.cp45, COL.green, false, 7),
      curve(legendLabels[2], D.cp90, COL.blue, false, 3),
      curve(legendLabels[3], D.cp135, COL.orange, false, 5),
      curve(legendLabels[4], D.xp0, COL.cyan, false, 12),
      curve(legendLabels[5], D.xp45, COL.magenta, false, 10),
      curve(legendLabels[6], D.xp90, COL.yellow, false, 11),
      curve(legendLabels[7], D.xp135, COL.brown, false, 9),
      curve('0 deg CP sim', D.cp0s, COL.red, true, 2),
      curve('90 deg CP sim', D.cp90s, COL.blue, true, 4),
      curve('45/135 deg CP sim', D.cp135s, COL.orange, true, 6),
      curve('XP sim', D.xps, COL.xpSim, true, 8),
      refLine([[refThetas[0], 0], [refThetas[0], -40]], 3, [14, 7]),
      refLine([[refThetas[1], 0], [refThetas[1], -40]], 3, [14, 7]),
      refLine([[-60, refLevel], [60, refLevel]], 2.2, [11, 6]),
    ];

    const decor = {
      id: 'decor',
      afterDatasetsDraw(chart: any) {
        const { ctx } = chart;
        const { left, right, top, bottom } = chart.chartArea;
        const xs = chart.scales.x;
        const ys = chart.scales.y;
        ctx.save();
        // inward tick marks (all four sides)
        ctx.strokeStyle = '#000';
        ctx.lineWidth = 1;
        ctx.setLineDash([]);
        ctx.beginPath();
        xTicks.forEach((v) => {
          const px = Math.round(xs.getPixelForValue(v)) + 0.5;
          ctx.moveTo(px, bottom); ctx.lineTo(px, bottom - 5);
          ctx.moveTo(px, top); ctx.lineTo(px, top + 5);
        });
        yTicks.forEach((v) => {
          const py = Math.round(ys.getPixelForValue(v)) + 0.5;
          ctx.moveTo(left, py); ctx.lineTo(left + 5, py);
          ctx.moveTo(right, py); ctx.lineTo(right - 5, py);
        });
        ctx.stroke();
        // frame
        ctx.lineWidth = 1.5;
        ctx.strokeRect(left, top, right - left, bottom - top);
        // legend
        const lx = right - 117;
        const lw = 116;
        const lh = L.legendH;
        ctx.fillStyle = '#fff';
        ctx.fillRect(lx, top, lw, lh);
        ctx.lineWidth = 1.2;
        ctx.strokeStyle = '#000';
        ctx.strokeRect(lx, top, lw, lh);
        const step = (lh - 20) / 7;
        ctx.font = `bold 15px ${SERIF}`;
        ctx.textAlign = 'left';
        ctx.textBaseline = 'middle';
        for (let i = 0; i < 8; i++) {
          const yy = top + 9.5 + i * step;
          ctx.strokeStyle = legendColors[i];
          ctx.lineWidth = 1.8;
          ctx.beginPath();
          ctx.moveTo(lx + 3, yy);
          ctx.lineTo(lx + 38, yy);
          ctx.stroke();
          ctx.fillStyle = '#000';
          ctx.fillText(legendLabels[i], lx + 40, yy + 1);
        }
        // frequency label
        ctx.font = `bold 23px ${SERIF}`;
        ctx.textBaseline = 'alphabetic';
        ctx.fillStyle = '#000';
        ctx.fillText(freqLabels[idx], left + 19, top + 29.5);
        // panel title
        ctx.font = `32px ${SERIF}`;
        ctx.textAlign = 'center';
        ctx.fillText(panelTitles[idx], 297, L.titleBase);
        ctx.restore();
      },
    };

    const chart = new Chart(ref.current as HTMLCanvasElement, {
      type: 'line',
      data: { datasets },
      options: {
        animation: false,
        responsive: false,
        devicePixelRatio: 1,
        layout: { padding: { top: L.plotTop, left: 0, right: 16, bottom: 0 } },
        plugins: { legend: { display: false }, tooltip: { enabled: false }, title: { display: false } },
        scales: {
          x: {
            type: 'linear',
            min: -60,
            max: 60,
            afterBuildTicks: (s: any) => { s.ticks = xTicks.map((v) => ({ value: v })); },
            afterFit: (s: any) => { s.height = L.h - L.plotBottom; },
            grid: { color: '#d9d9d9', lineWidth: 1, drawTicks: false },
            border: { display: false },
            ticks: { color: '#000', padding: -2, maxRotation: 0, autoSkip: false, font: { family: SERIF, size: 22 } },
            title: { display: true, text: 'Theta, (deg)', color: '#000', font: { family: SERIF, size: 23 }, padding: { top: 0, bottom: L.xTitlePad } },
          },
          y: {
            type: 'linear',
            min: -40,
            max: 0,
            afterBuildTicks: (s: any) => { s.ticks = yTicks.map((v) => ({ value: v })); },
            afterFit: (s: any) => { s.width = 69; },
            grid: { color: '#d9d9d9', lineWidth: 1, drawTicks: false },
            border: { display: false },
            ticks: { color: '#000', padding: 4, autoSkip: false, font: { family: SERIF, size: 22 } },
            title: { display: true, text: 'dB', color: '#000', font: { family: SERIF, size: 23 }, padding: { top: 11, bottom: 0 } },
          },
        },
      } as any,
      plugins: [decor],
    } as any);
    return () => chart.destroy();
  }, [idx]);
  return (
    <canvas
      ref={ref}
      width={527}
      height={L.h}
      style={{ position: 'absolute', left: 0, top: L.top, width: 527, height: L.h }}
    />
  );
}

export default function App() {
  return (
    <div style={{ position: 'absolute', left: 0, top: 0, width: 527, height: 1232, background: '#fff' }}>
      <Panel idx={0} />
      <Panel idx={1} />
      <Panel idx={2} />
    </div>
  );
}
